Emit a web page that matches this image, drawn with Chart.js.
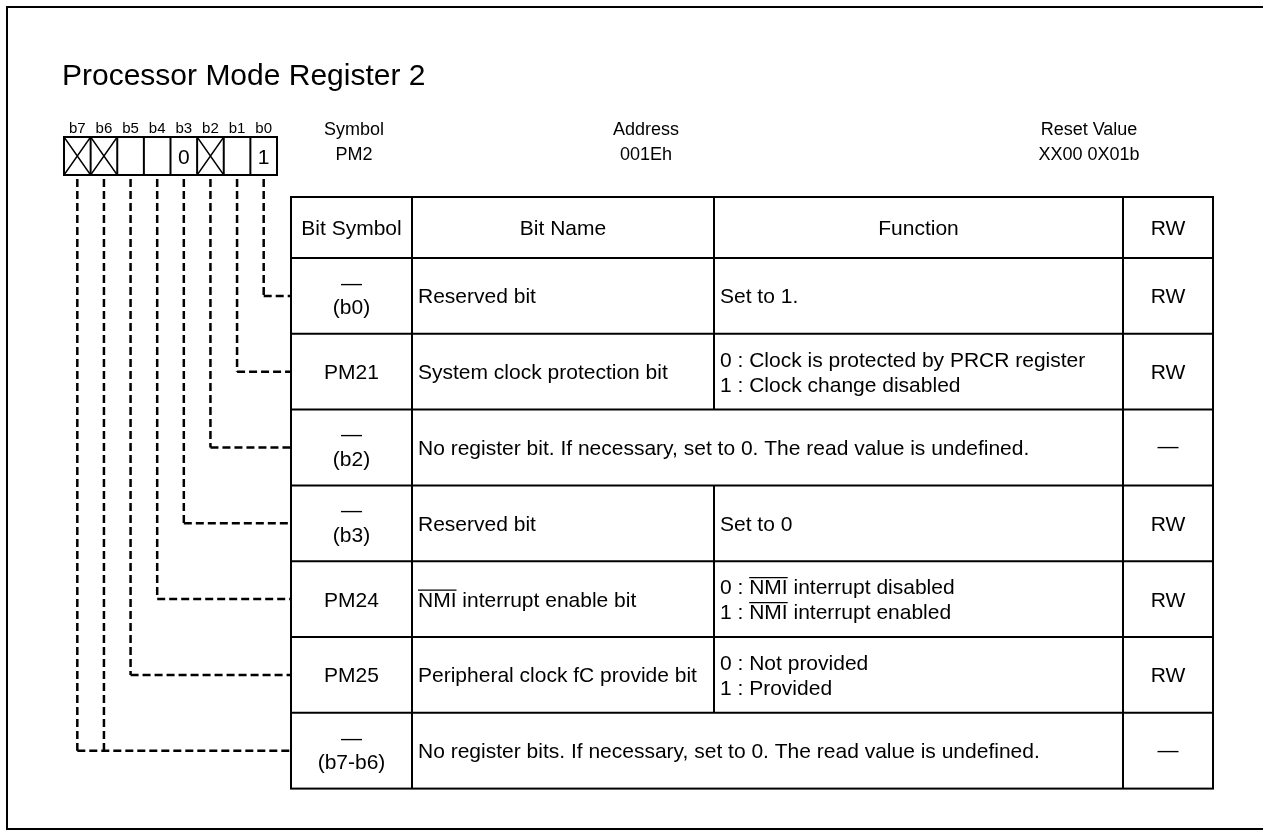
<!DOCTYPE html>
<html><head><meta charset="utf-8">
<script src="https://cdn.jsdelivr.net/npm/chart.js@4/dist/chart.umd.min.js"></script>
<style>html,body{margin:0;padding:0;background:#fff;}#wrap{width:1263px;height:830px;position:relative;}</style>
</head><body><div id="wrap"><canvas id="c"></canvas></div>
<script>
// ---------- data ----------
const titleText = 'Processor Mode Register 2';
const bitLabels = ['b7','b6','b5','b4','b3','b2','b1','b0'];
const bitValues = ['X','X','','','0','X','','1'];   // X = no register bit (crossed)
const infoLabels = ['Symbol','Address','Reset Value'];
const infoValues = ['PM2','001Eh','XX00 0X01b'];
const headerLabels = ['Bit Symbol','Bit Name','Function','RW'];
const rowSymbols = [['—','(b0)'],['PM21'],['—','(b2)'],['—','(b3)'],['PM24'],['PM25'],['—','(b7-b6)']];
const rowNames = ['Reserved bit','System clock protection bit','','Reserved bit','[NMI] interrupt enable bit','Peripheral clock fC provide bit',''];
const rowFunctions = [
  ['Set to 1.'],
  ['0 : Clock is protected by PRCR register','1 : Clock change disabled'],
  ['No register bit. If necessary, set to 0. The read value is undefined.'],
  ['Set to 0'],
  ['0 : [NMI] interrupt disabled','1 : [NMI] interrupt enabled'],
  ['0 : Not provided','1 : Provided'],
  ['No register bits. If necessary, set to 0. The read value is undefined.']
];
const rowSpans = [false,false,true,false,false,false,true];
const rowRW = ['RW','RW','—','RW','RW','RW','—'];
const rowBits = [[0],[1],[2],[3],[4],[5],[7,6]];

// ---------- layout (not data) ----------
const FONT = '"Liberation Sans", Arial, Helvetica, sans-serif';
const L = {
  frame:{x:7, y:7, r:1265, b:829},
  title:{x:62, base:85, size:30},
  box:{x:64, y:137, w:213, h:38},
  bitLabel:{base:133, size:15},
  info:{x:[354,646,1089], base1:135, base2:160, size:18},
  table:{cols:[291,412,714,1123,1213], top:197, headH:61, rowH:75.8},
  fs:21, gap:25
};
const cellW = L.box.w / bitLabels.length;
const rowCenter = i => L.table.top + L.table.headH + (i + 0.5) * L.table.rowH;
const bitX = k => L.box.x + (bitLabels.length - 1 - k + 0.5) * cellW;

// ---------- leader lines as datasets ----------
const leaderSets = [];
rowBits.forEach((bits, i) => {
  const yc = rowCenter(i);
  const xs = bits.map(bitX);
  bits.forEach((k) => {
    leaderSets.push({data:[{x:bitX(k), y:L.box.y + L.box.h + 4}, {x:bitX(k), y:yc}]});
  });
  leaderSets.push({data:[{x:Math.min(...xs), y:yc}, {x:L.table.cols[0], y:yc}]});
});
leaderSets.forEach(d => Object.assign(d, {
  showLine:true, borderColor:'#000', borderWidth:2.5, borderDash:[8,4],
  pointRadius:0, tension:0, fill:false
}));

// ---------- drawing helpers ----------
function rich(ctx, str, x, base, align, size) {
  const parts = str.split(/(\[[^\]]+\])/).filter(s => s);
  const segs = parts.map(p => {
    const ov = p.startsWith('[');
    const t = ov ? p.slice(1, -1) : p;
    return {t, ov, w: ctx.measureText(t).width};
  });
  const total = segs.reduce((a, s) => a + s.w, 0);
  let cx = align === 'center' ? x - total / 2 : x;
  ctx.textAlign = 'left';
  for (const s of segs) {
    ctx.fillText(s.t, cx, base);
    if (s.ov) {
      const oy = base - size * 0.716 - 1.5;
      ctx.save(); ctx.lineWidth = 1.2; ctx.beginPath();
      ctx.moveTo(cx, oy); ctx.lineTo(cx + s.w, oy); ctx.stroke(); ctx.restore();
    }
    cx += s.w;
  }
}

const tablePlugin = {
  id:'registerTable',
  afterDatasetsDraw(chart) {
    const ctx = chart.ctx;
    const X = v => chart.scales.x.getPixelForValue(v);
    const Y = v => chart.scales.y.getPixelForValue(v);
    ctx.save();
    ctx.strokeStyle = '#000'; ctx.fillStyle = '#000';
    ctx.textBaseline = 'alphabetic';
    // frame
    ctx.lineWidth = 2;
    ctx.strokeRect(X(L.frame.x), Y(L.frame.y), X(L.frame.r) - X(L.frame.x), Y(L.frame.b) - Y(L.frame.y));
    // title
    ctx.font = `${L.title.size}px ${FONT}`;
    ctx.textAlign = 'left';
    ctx.fillText(titleText, X(L.title.x), Y(L.title.base));
    // bit labels and boxes
    ctx.font = `${L.bitLabel.size}px ${FONT}`;
    bitLabels.forEach((b, j) => {
      ctx.textAlign = 'center';
      ctx.fillText(b, X(L.box.x + (j + 0.5) * cellW), Y(L.bitLabel.base));
    });
    ctx.lineWidth = 2;
    ctx.strokeRect(X(L.box.x), Y(L.box.y), X(L.box.x + L.box.w) - X(L.box.x), Y(L.box.y + L.box.h) - Y(L.box.y));
    for (let j = 1; j < bitLabels.length; j++) {
      ctx.beginPath(); ctx.moveTo(X(L.box.x + j * cellW), Y(L.box.y)); ctx.lineTo(X(L.box.x + j * cellW), Y(L.box.y + L.box.h)); ctx.stroke();
    }
    ctx.font = `${L.fs}px ${FONT}`;
    bitValues.forEach((v, j) => {
      const x0 = L.box.x + j * cellW, x1 = x0 + cellW;
      if (v === 'X') {
        ctx.save(); ctx.lineWidth = 1.4; ctx.beginPath();
        ctx.moveTo(X(x0), Y(L.box.y)); ctx.lineTo(X(x1), Y(L.box.y + L.box.h));
        ctx.moveTo(X(x1), Y(L.box.y)); ctx.lineTo(X(x0), Y(L.box.y + L.box.h));
        ctx.stroke(); ctx.restore();
      } else if (v) {
        ctx.textAlign = 'center';
        ctx.fillText(v, X(x0 + cellW / 2), Y(L.box.y + L.box.h / 2 + 7.5));
      }
    });
    // register info
    ctx.font = `${L.info.size}px ${FONT}`;
    ctx.textAlign = 'center';
    infoLabels.forEach((t, j) => {
      ctx.fillText(t, X(L.info.x[j]), Y(L.info.base1));
      ctx.fillText(infoValues[j], X(L.info.x[j]), Y(L.info.base2));
    });
    // table
    const c = L.table.cols, top = L.table.top, hh = L.table.headH, rh = L.table.rowH;
    const nRows = rowSymbols.length;
    const bottom = top + hh + nRows * rh;
    ctx.lineWidth = 2;
    ctx.strokeRect(X(c[0]), Y(top), X(c[4]) - X(c[0]), Y(bottom) - Y(top));
    const hline = (y, a, b) => { ctx.beginPath(); ctx.moveTo(X(a), Y(y)); ctx.lineTo(X(b), Y(y)); ctx.stroke(); };
    const vline = (x, a, b) => { ctx.beginPath(); ctx.moveTo(X(x), Y(a)); ctx.lineTo(X(x), Y(b)); ctx.stroke(); };
    hline(top + hh, c[0], c[4]);
    for (let i = 1; i < nRows; i++) hline(top + hh + i * rh, c[0], c[4]);
    vline(c[1], top, bottom);
    vline(c[3], top, bottom);
    vline(c[2], top, top + hh);
    rowSpans.forEach((sp, i) => { if (!sp) vline(c[2], top + hh + i * rh, top + hh + (i + 1) * rh); });
    const cap = L.fs * 0.716 / 2;
    ctx.font = `${L.fs}px ${FONT}`;
    headerLabels.forEach((t, j) => {
      ctx.textAlign = 'center';
      ctx.fillText(t, X((c[j] + c[j + 1]) / 2), Y(top + hh / 2 + cap));
    });
    for (let i = 0; i < nRows; i++) {
      const yc = rowCenter(i);
      const sym = rowSymbols[i];
      ctx.textAlign = 'center';
      const sx = X((c[0] + c[1]) / 2);
      if (sym.length === 1) {
        ctx.fillText(sym[0], sx, Y(yc + cap));
      } else {
        ctx.fillText(sym[0], sx, Y(yc - 12 + 5.8));
        ctx.fillText(sym[1], sx, Y(yc + 11 + cap));
      }
      if (!rowSpans[i]) rich(ctx, rowNames[i], X(c[1] + 6), Y(yc + cap), 'left', L.fs);
      const fx = rowSpans[i] ? c[1] + 6 : c[2] + 6;
      const lines = rowFunctions[i];
      lines.forEach((ln, k) => {
        const off = (k - (lines.length - 1) / 2) * L.gap;
        rich(ctx, ln, X(fx), Y(yc + off + cap), 'left', L.fs);
      });
      ctx.textAlign = 'center';
      const rwOff = rowRW[i] === '—' ? 5.8 : cap;
      ctx.fillText(rowRW[i], X((c[3] + c[4]) / 2), Y(yc + rwOff));
    }
    ctx.restore();
  }
};

new Chart(document.getElementById('c').getContext('2d'), {
  type:'scatter',
  data:{datasets:leaderSets},
  options:{
    responsive:true, maintainAspectRatio:false, animation:false, events:[],
    layout:{padding:0},
    plugins:{legend:{display:false}, tooltip:{enabled:false}, title:{display:false}},
    scales:{
      x:{type:'linear', min:0, max:1263, display:false},
      y:{type:'linear', min:0, max:830, reverse:true, display:false}
    }
  },
  plugins:[tablePlugin]
});
</script>
</body></html>
